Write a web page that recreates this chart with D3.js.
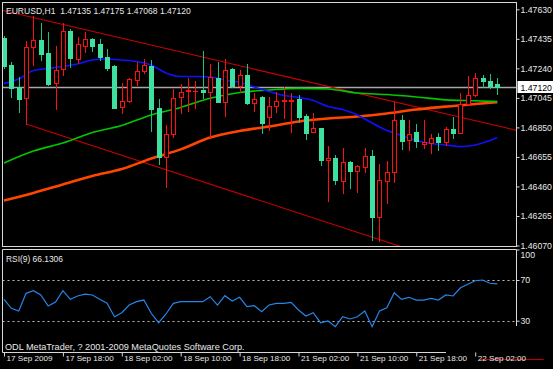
<!DOCTYPE html>
<html>
<head>
<meta charset="utf-8">
<style>
    html, body { margin: 0; padding: 0; background: #000; }
    svg { display: block; }
    text { font-family: "Liberation Sans", Arial, sans-serif; font-size: 9px; fill: #e8e8e8; }
</style>
<script src="https://cdn.jsdelivr.net/npm/d3@7/dist/d3.min.js"></script>
</head>
<body>
<div id="chart"></div>
<script>
// EURUSD H1 bars, 17 Sep 10:00 .. 22 Sep 05:00
var opens = [1.47442, 1.47260, 1.47115, 1.47042, 1.47379, 1.47429, 1.47339, 1.47145, 1.47234, 1.47487,
    1.47302, 1.47390, 1.47432, 1.47403, 1.47313, 1.47258, 1.46983, 1.47026, 1.47163, 1.47225,
    1.47258, 1.46980, 1.46657, 1.46805, 1.47049, 1.47090, 1.47089, 1.47097, 1.47086, 1.47178,
    1.47020, 1.47236, 1.47124, 1.47196, 1.47011, 1.47049, 1.46921, 1.46993, 1.47024, 1.47027,
    1.47038, 1.46925, 1.46822, 1.46846, 1.46633, 1.46650, 1.46499, 1.46620, 1.46564, 1.46591,
    1.46661, 1.46256, 1.46499, 1.46554, 1.46899, 1.46764, 1.46818, 1.46740, 1.46747, 1.46789,
    1.46756, 1.46838, 1.46815, 1.47003, 1.47061, 1.47174, 1.47157, 1.47135];
var highs = [1.47454, 1.47284, 1.47185, 1.47423, 1.47586, 1.47542, 1.47478, 1.47390, 1.47538, 1.47500,
    1.47445, 1.47478, 1.47439, 1.47432, 1.47368, 1.47262, 1.47141, 1.47174, 1.47284, 1.47300,
    1.47295, 1.47038, 1.46866, 1.47102, 1.47137, 1.47174, 1.47157, 1.47355, 1.47267, 1.47284,
    1.47302, 1.47244, 1.47229, 1.47267, 1.47077, 1.47057, 1.47051, 1.47081, 1.47120, 1.47077,
    1.47064, 1.46939, 1.46947, 1.46849, 1.46729, 1.46668, 1.46716, 1.46628, 1.46602, 1.46712,
    1.46701, 1.46608, 1.46628, 1.47020, 1.46932, 1.46899, 1.46871, 1.46899, 1.46806, 1.46811,
    1.46853, 1.46919, 1.47077, 1.47188, 1.47211, 1.47196, 1.47203, 1.47175];
var lows = [1.47242, 1.47053, 1.46950, 1.46873, 1.47262, 1.47295, 1.47130, 1.46972, 1.47196, 1.47251,
    1.47273, 1.47350, 1.47357, 1.47295, 1.47229, 1.46976, 1.46943, 1.47020, 1.47130, 1.47207,
    1.46826, 1.46606, 1.46458, 1.46789, 1.46943, 1.46958, 1.46978, 1.47042, 1.46789, 1.47018,
    1.46925, 1.47119, 1.47084, 1.47005, 1.46958, 1.46811, 1.46833, 1.46949, 1.46912, 1.46822,
    1.46886, 1.46775, 1.46820, 1.46602, 1.46366, 1.46474, 1.46415, 1.46448, 1.46425, 1.46554,
    1.46106, 1.46102, 1.46353, 1.46488, 1.46705, 1.46701, 1.46721, 1.46714, 1.46683, 1.46701,
    1.46734, 1.46778, 1.46813, 1.46998, 1.47057, 1.47115, 1.47108, 1.47068];
var closes = [1.47258, 1.47108, 1.47038, 1.47379, 1.47429, 1.47335, 1.47139, 1.47231, 1.47487, 1.47310,
    1.47401, 1.47432, 1.47390, 1.47313, 1.47244, 1.46980, 1.47026, 1.47168, 1.47225, 1.47260,
    1.46974, 1.46657, 1.46805, 1.47044, 1.47086, 1.47094, 1.47092, 1.47086, 1.47185, 1.47020,
    1.47229, 1.47125, 1.47194, 1.47011, 1.47038, 1.46877, 1.46993, 1.47026, 1.47028, 1.47033,
    1.46921, 1.46815, 1.46846, 1.46633, 1.46650, 1.46503, 1.46620, 1.46564, 1.46595, 1.46661,
    1.46260, 1.46503, 1.46558, 1.46899, 1.46760, 1.46806, 1.46760, 1.46756, 1.46782, 1.46756,
    1.46838, 1.46815, 1.47003, 1.47064, 1.47174, 1.47159, 1.47125, 1.47120];

// moving averages, read at bar indexes
var blueIndex = [0, 2, 4, 6, 8, 10, 12, 14, 16, 18, 20, 22, 24, 26, 28, 30, 32, 34, 36, 38,
    40, 42, 44, 46, 48, 50, 52, 54, 56, 58, 60, 62, 64, 66, 67];
var blueValues = [1.47140, 1.47170, 1.47226, 1.47239, 1.47252, 1.47269, 1.47295, 1.47302, 1.47295, 1.47285,
    1.47262, 1.47209, 1.47186, 1.47186, 1.47183, 1.47163, 1.47147, 1.47117, 1.47087, 1.47061,
    1.47048, 1.47028, 1.46988, 1.46968, 1.46932, 1.46879, 1.46830, 1.46797, 1.46764, 1.46744,
    1.46734, 1.46723, 1.46734, 1.46764, 1.46783];
var maIndex = [0, 4, 8, 12, 16, 20, 24, 28, 32, 36, 40, 44, 48, 52, 56, 60, 64, 67];
var greenValues = [1.46615, 1.46694, 1.46747, 1.46816, 1.46863, 1.46932, 1.46982, 1.47042, 1.47081, 1.47097,
    1.47108, 1.47104, 1.47077, 1.47067, 1.47051, 1.47032, 1.47026, 1.47020];
var orangeValues = [1.46367, 1.46417, 1.46473, 1.46529, 1.46575, 1.46645, 1.46705, 1.46783, 1.46826, 1.46856,
    1.46889, 1.46909, 1.46922, 1.46942, 1.46968, 1.46987, 1.47005, 1.47017];

// RSI(9)
var rsiValues = [51.0, 42.2, 39.5, 56.9, 59.5, 55.3, 44.4, 48.4, 59.5, 51.0,
    54.3, 56.2, 55.3, 51.0, 47.1, 33.9, 37.9, 45.4, 48.7, 50.3,
    37.3, 28.0, 36.6, 47.1, 48.7, 48.7, 48.7, 48.7, 53.6, 45.4,
    54.6, 49.4, 53.0, 43.8, 44.7, 38.8, 45.4, 47.1, 47.1, 48.1,
    40.5, 34.6, 37.9, 28.0, 29.7, 24.1, 33.9, 31.7, 33.9, 39.5,
    24.1, 39.5, 42.8, 57.5, 51.0, 53.0, 50.3, 50.3, 52.0, 50.3,
    55.3, 54.3, 62.4, 65.8, 69.3, 70.0, 66.8, 66.13];
var rsiTicks = [100, 70, 30];
var rsiLevels = [70, 30];

// trend lines: [bar index, price]
var upperTrend = [[-0.14, 1.47622], [69.67, 1.46830]];
var lowerTrend = [[3, 1.46873], [60, 1.45966]];

var priceTicks = [1.47630, 1.47435, 1.47240, 1.47045, 1.46850, 1.46655, 1.46460, 1.46265, 1.46070];
var timeTickIndex = [0, 8, 16, 24, 32, 40, 48, 56, 64];
var timeTickLabels = ['17 Sep 2009', '17 Sep 18:00', '18 Sep 02:00', '18 Sep 10:00', '18 Sep 18:00',
    '21 Sep 02:00', '21 Sep 10:00', '21 Sep 18:00', '22 Sep 02:00'];

var bidPrice = 1.47120;
var symbolTitle = 'EURUSD,H1';
var rsiTitle = 'RSI(9) 66.1306';
var copyright = 'ODL MetaTrader, ? 2001-2009 MetaQuotes Software Corp.';

(function () {
    "use strict";

    var config = {
        selector: '#chart',
        width: 553,
        height: 369,
        main: { left: 2.5, right: 516.5, top: 2.5, bottom: 246.5 },
        rsi: { top: 249.5, bottom: 352.5 },
        xRange: [4, 497.3],
        priceRange: [245.5, 9.3],
        rsiRange: [351.2, 249.5],
        border: '#d8d8d8',
        bull: '#ff1010',
        bear: '#3ee0a0',
        bearWick: '#20c080',
        // text widths seen in the picture, px
        fit: { header: 185, rsiTitle: 57, copyright: 240, timeLabel: 46, priceLabel: 31.5 }
    };

    // font size that makes a text node as wide as the picture's
    function fitSize(node, target) {
        var w = node.getComputedTextLength();
        return w > 0 ? (9 * target / w) : 9;
    }

    function drawChart() {
        var svg = d3.select(config.selector).html('')
            .append('svg')
            .attr('width', config.width)
            .attr('height', config.height)
            .style('background', '#000');

        var m = config.main;
        var x = d3.scaleLinear().domain([0, closes.length - 1]).range(config.xRange);
        var y = d3.scaleLinear()
            .domain([priceTicks[priceTicks.length - 1], priceTicks[0]])
            .range(config.priceRange);
        var yR = d3.scaleLinear().domain([0, 100]).range(config.rsiRange);

        var defs = svg.append('defs');
        defs.append('clipPath').attr('id', 'clip-main')
            .append('rect')
            .attr('x', m.left + 0.5).attr('y', m.top + 0.5)
            .attr('width', m.right - m.left - 1).attr('height', m.bottom - m.top - 1);
        defs.append('clipPath').attr('id', 'clip-rsi')
            .append('rect')
            .attr('x', m.left + 0.5).attr('y', config.rsi.top + 0.5)
            .attr('width', m.right - m.left - 1).attr('height', config.rsi.bottom - config.rsi.top - 1);

        var main = svg.append('g').attr('clip-path', 'url(#clip-main)');

        // bid line
        var bidY = Math.round(y(bidPrice)) + 0.5;
        main.append('line')
            .attr('x1', m.left).attr('x2', m.right)
            .attr('y1', bidY).attr('y2', bidY)
            .attr('stroke', '#a8a8a8').attr('stroke-width', 1.5);

        // trend lines
        var trend = d3.line()
            .x(function (d) { return x(d[0]); })
            .y(function (d) { return y(d[1]); });
        main.append('path').attr('d', trend(upperTrend))
            .attr('fill', 'none').attr('stroke', '#d00000').attr('stroke-width', 1.1);
        main.append('path').attr('d', trend(lowerTrend))
            .attr('fill', 'none').attr('stroke', '#c80000').attr('stroke-width', 1.1);

        // moving averages
        var ma = d3.line()
            .x(function (d) { return x(d[0]); })
            .y(function (d) { return y(d[1]); })
            .curve(d3.curveMonotoneX);
        main.append('path').attr('d', ma(d3.zip(maIndex, orangeValues)))
            .attr('fill', 'none').attr('stroke', '#ff4500').attr('stroke-width', 2.6);
        main.append('path').attr('d', ma(d3.zip(maIndex, greenValues)))
            .attr('fill', 'none').attr('stroke', '#00c800').attr('stroke-width', 1.6);
        main.append('path').attr('d', ma(d3.zip(blueIndex, blueValues)))
            .attr('fill', 'none').attr('stroke', '#1010ff').attr('stroke-width', 1.6);

        // candles
        var candle = main.selectAll('g.candle')
            .data(d3.range(closes.length))
            .enter()
            .append('g')
            .attr('class', 'candle');

        candle.each(function (i) {
            var g = d3.select(this);
            var cx = Math.round(x(i));
            var up = closes[i] >= opens[i];
            var top = Math.round(y(Math.max(opens[i], closes[i])));
            var bot = Math.round(y(Math.min(opens[i], closes[i])));
            g.append('line')
                .attr('x1', cx + 0.5).attr('x2', cx + 0.5)
                .attr('y1', Math.round(y(highs[i]))).attr('y2', Math.round(y(lows[i])) + 1)
                .attr('stroke', up ? config.bull : config.bearWick);
            if (up && bot - top >= 2) {
                g.append('rect')
                    .attr('x', cx - 1.5).attr('y', top + 0.5)
                    .attr('width', 4).attr('height', bot - top)
                    .attr('fill', '#000').attr('stroke', config.bull);
            } else {
                g.append('rect')
                    .attr('x', cx - 2).attr('y', top)
                    .attr('width', 5).attr('height', Math.max(1, bot - top + 1))
                    .attr('fill', up ? config.bull : config.bear);
            }
        });

        // panel borders
        svg.append('rect')
            .attr('x', m.left).attr('y', m.top)
            .attr('width', m.right - m.left).attr('height', m.bottom - m.top)
            .attr('fill', 'none').attr('stroke', config.border);
        var r = config.rsi;
        svg.append('path')
            .attr('d', 'M' + m.left + ',' + r.bottom + 'V' + r.top + 'H' + m.right + 'V326')
            .attr('fill', 'none').attr('stroke', config.border);
        svg.append('line')
            .attr('x1', m.left).attr('x2', 446)
            .attr('y1', r.bottom).attr('y2', r.bottom)
            .attr('stroke', config.border);

        // price axis
        var priceAxis = svg.append('g')
            .attr('transform', 'translate(' + m.right + ',0)')
            .call(d3.axisRight(y).tickValues(priceTicks).tickFormat(d3.format('.5f')).tickSize(3).tickPadding(1));
        priceAxis.select('.domain').remove();
        priceAxis.selectAll('line').attr('stroke', config.border);
        var priceText = priceAxis.selectAll('text').attr('font-family', null).attr('font-size', null)
            .style('fill', '#e8e8e8');
        var axisSize = fitSize(priceText.node(), config.fit.priceLabel);
        priceText.style('font-size', axisSize + 'px');

        // current price label
        var bidBox = svg.append('g').attr('transform', 'translate(' + (m.right + 1) + ',' + bidY + ')');
        bidBox.append('rect')
            .attr('x', 0).attr('y', -6.5).attr('width', 36).attr('height', 12)
            .attr('fill', '#fff');
        bidBox.append('text')
            .attr('x', 3).attr('dy', '0.35em')
            .style('fill', '#000')
            .style('font-size', axisSize + 'px')
            .text(d3.format('.5f')(bidPrice));

        var header = svg.append('text').attr('x', 6).attr('y', 14)
            .style('white-space', 'pre')
            .text(symbolTitle + '  ' + [opens, highs, lows, closes].map(function (s) {
                return d3.format('.5f')(s[s.length - 1]);
            }).join(' '));
        header.style('font-size', fitSize(header.node(), config.fit.header) + 'px');

        // RSI
        var rsi = svg.append('g').attr('clip-path', 'url(#clip-rsi)');
        rsi.selectAll('line.level')
            .data(rsiLevels)
            .enter()
            .append('line')
            .attr('class', 'level')
            .attr('x1', m.left).attr('x2', m.right)
            .attr('y1', function (d) { return Math.round(yR(d)) + 0.5; })
            .attr('y2', function (d) { return Math.round(yR(d)) + 0.5; })
            .attr('stroke', '#bdbdbd').attr('stroke-dasharray', '2,3');
        rsi.append('path')
            .attr('d', d3.line()
                .x(function (d, i) { return x(i); })
                .y(function (d) { return yR(d); })(rsiValues))
            .attr('fill', 'none').attr('stroke', '#2585e8').attr('stroke-width', 1.2);

        var rsiAxis = svg.append('g')
            .attr('transform', 'translate(' + m.right + ',0)')
            .call(d3.axisRight(yR).tickValues(rsiTicks).tickSize(3).tickPadding(1));
        rsiAxis.select('.domain').remove();
        rsiAxis.selectAll('line').attr('stroke', config.border);
        rsiAxis.selectAll('text').attr('font-family', null).attr('font-size', null)
            .style('fill', '#e8e8e8')
            .style('font-size', axisSize + 'px')
            .attr('dy', function (d) { return d === 100 ? '0.95em' : '0.32em'; });

        var rsiLabel = svg.append('text').attr('x', 6).attr('y', 261.5).text(rsiTitle);
        rsiLabel.style('font-size', fitSize(rsiLabel.node(), config.fit.rsiTitle) + 'px');
        var copy = svg.append('text').attr('x', 5).attr('y', 349.5).text(copyright);
        copy.style('font-size', fitSize(copy.node(), config.fit.copyright) + 'px');

        // stray red object line under the last date label
        svg.append('line')
            .attr('x1', x(64.6)).attr('x2', x(73.3))
            .attr('y1', 359.5).attr('y2', 359.5)
            .attr('stroke', '#c00000');

        // time axis
        var timeAxis = svg.append('g')
            .attr('transform', 'translate(0,' + r.bottom + ')')
            .call(d3.axisBottom(x).tickValues(timeTickIndex)
                .tickFormat(function (d, i) { return timeTickLabels[i]; })
                .tickSize(4));
        timeAxis.select('.domain').remove();
        timeAxis.selectAll('line').attr('stroke', config.border);
        var timeText = timeAxis.selectAll('text').attr('font-family', null).attr('font-size', null)
            .style('fill', '#e8e8e8')
            .attr('text-anchor', 'start')
            .attr('x', 2).attr('y', 3).attr('dy', '0.71em');
        timeText.style('font-size', fitSize(timeText.node(), config.fit.timeLabel) + 'px');
    }

    drawChart();
})();
</script>
</body>
</html>
